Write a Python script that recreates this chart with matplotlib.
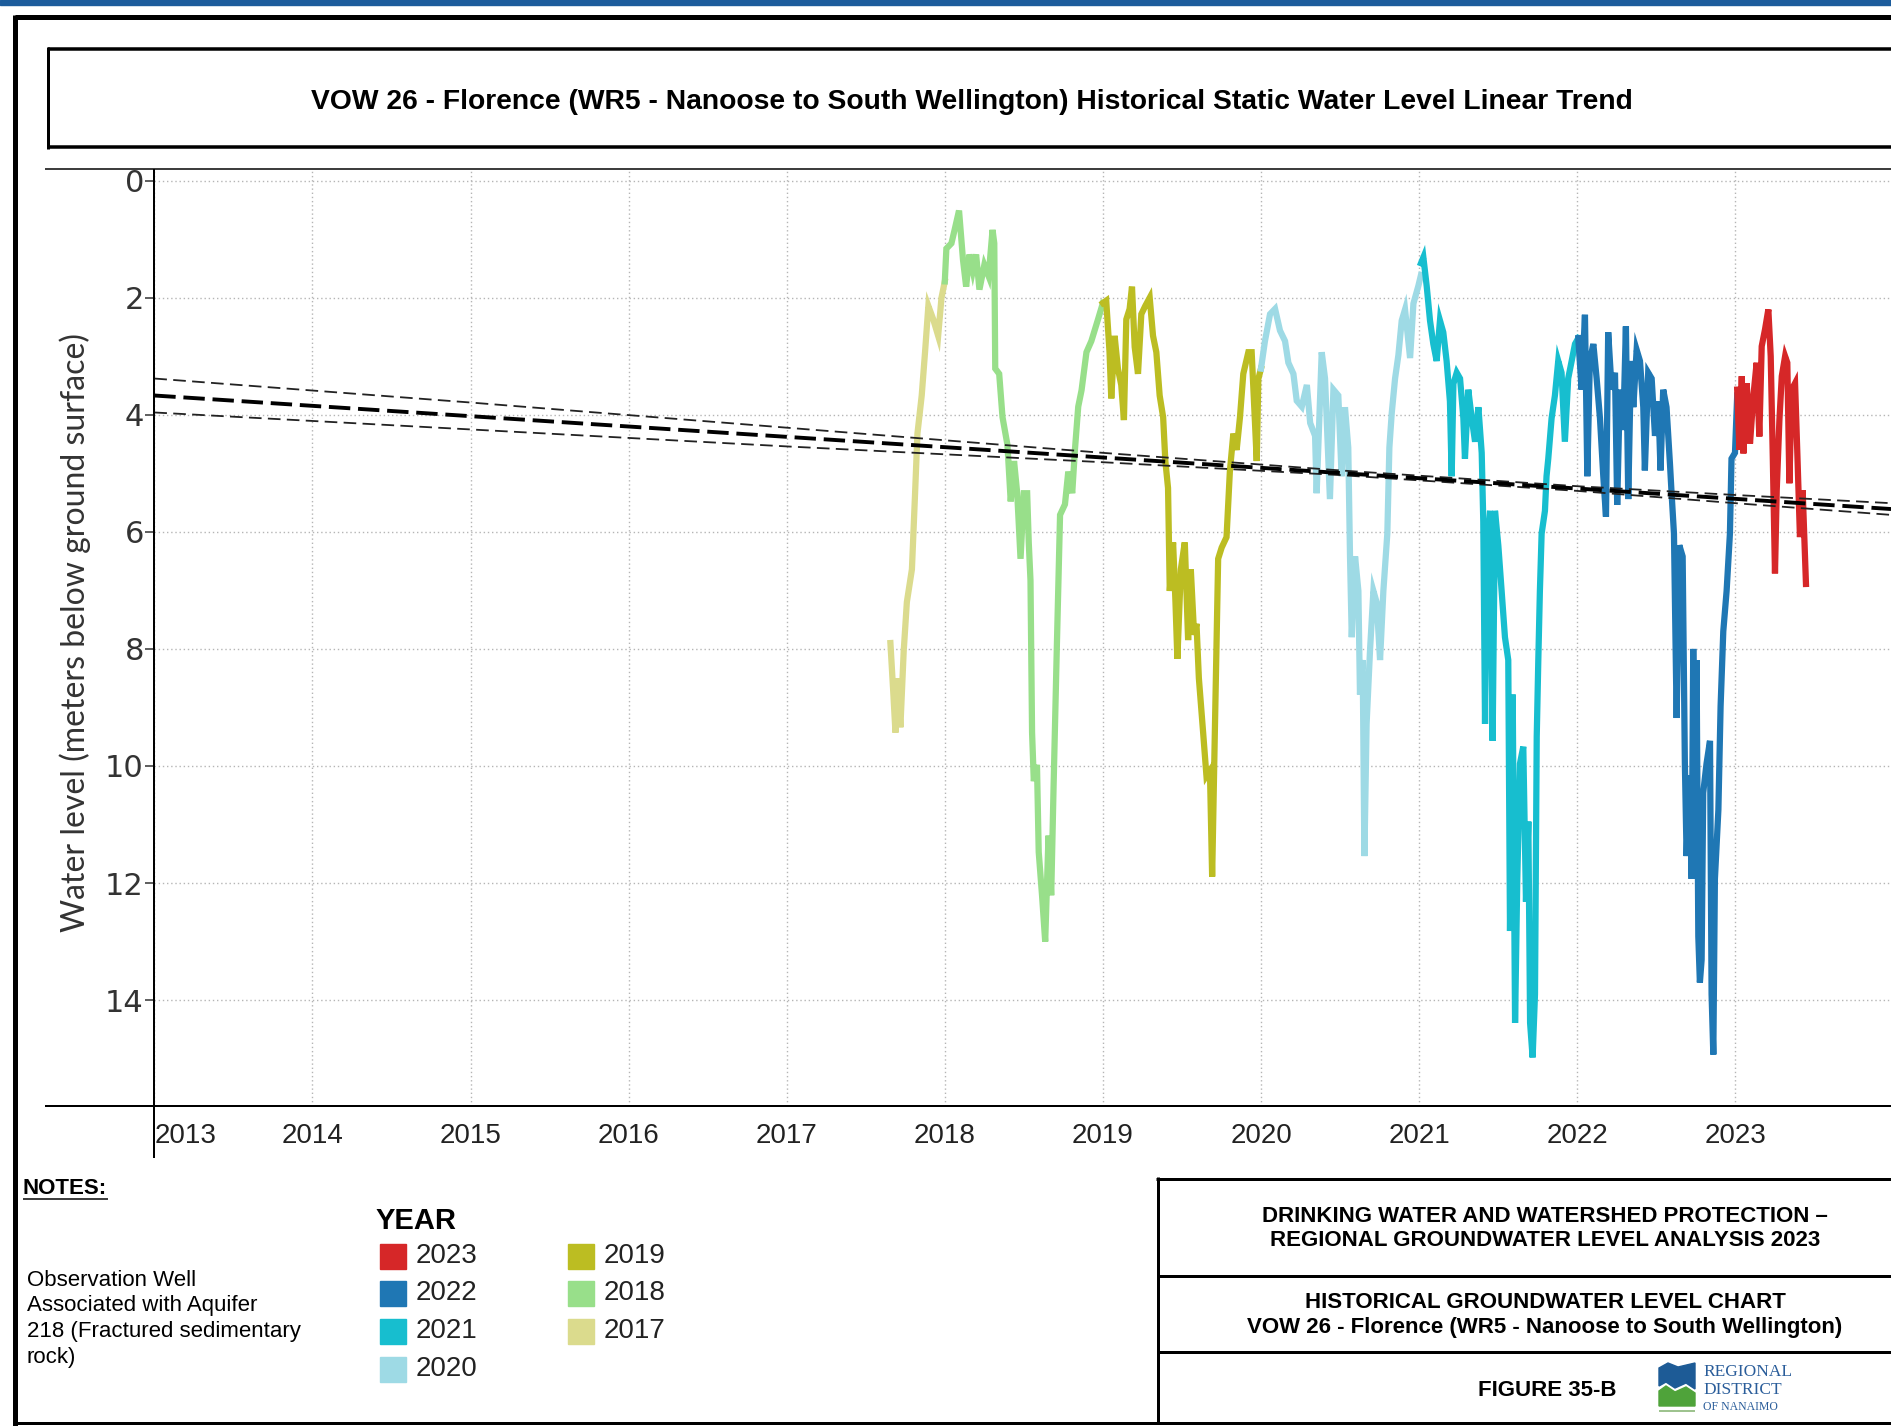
import matplotlib
matplotlib.use("Agg")
import matplotlib.pyplot as plt
from matplotlib.lines import Line2D
from matplotlib.patches import Rectangle, Polygon

W, H = 1891, 1426

# ...Water level series, decimal year vs metres below ground surface
years_2017 = [2017.656, 2017.673, 2017.688, 2017.702, 2017.719, 2017.740, 2017.760, 2017.792,
              2017.812, 2017.827, 2017.854, 2017.875, 2017.896, 2017.927, 2017.958, 2017.979, 2018.000]
level_2017 = [7.90, 8.69, 9.43, 8.50, 9.34, 8.04, 7.20, 6.64,
              5.34, 4.32, 3.67, 2.93, 2.14, 2.37, 2.65, 2.00, 1.72]

years_2018 = [2018.000, 2018.010, 2018.042, 2018.062, 2018.090, 2018.115, 2018.135, 2018.156,
              2018.177, 2018.198, 2018.219, 2018.250, 2018.277, 2018.302, 2018.313, 2018.319,
              2018.344, 2018.365, 2018.396, 2018.417, 2018.438, 2018.458, 2018.479, 2018.500,
              2018.521, 2018.531, 2018.542, 2018.552, 2018.563, 2018.583, 2018.594, 2018.615,
              2018.635, 2018.656, 2018.673, 2018.688, 2018.708, 2018.729, 2018.760, 2018.781,
              2018.806, 2018.823, 2018.844, 2018.865, 2018.896, 2018.927, 2018.969, 2019.000]
level_2018 = [1.72, 1.16, 1.07, 0.84, 0.51, 1.35, 1.81, 1.26,
              1.54, 1.26, 1.86, 1.44, 1.63, 0.84, 1.07, 3.21,
              3.30, 4.04, 4.51, 5.48, 4.79, 5.34, 6.46, 5.34,
              5.34, 6.18, 6.83, 9.43, 10.26, 9.98, 11.47, 12.21,
              13.00, 11.19, 12.21, 10.36, 8.04, 5.71, 5.53, 4.97,
              5.34, 4.60, 3.86, 3.58, 2.93, 2.74, 2.37, 2.09]

years_2019 = [2019.000, 2019.021, 2019.042, 2019.053, 2019.074, 2019.095, 2019.116, 2019.133,
              2019.148, 2019.169, 2019.184, 2019.201, 2019.222, 2019.243, 2019.268, 2019.296,
              2019.317, 2019.338, 2019.359, 2019.381, 2019.395, 2019.412, 2019.423, 2019.444,
              2019.459, 2019.471, 2019.493, 2019.518, 2019.539, 2019.556, 2019.577, 2019.592,
              2019.607, 2019.634, 2019.655, 2019.677, 2019.691, 2019.708, 2019.729, 2019.751,
              2019.782, 2019.803, 2019.825, 2019.846, 2019.867, 2019.888, 2019.920, 2019.941,
              2019.962, 2019.973, 2019.983, 2020.000]
level_2019 = [2.09, 2.05, 2.93, 3.72, 2.65, 3.21, 3.49, 4.09,
              2.37, 2.19, 1.81, 2.84, 3.30, 2.28, 2.14, 2.00,
              2.65, 2.93, 3.67, 4.04, 4.79, 5.25, 7.01, 6.18,
              7.20, 8.17, 6.64, 6.18, 7.85, 6.64, 7.76, 7.57,
              8.50, 9.43, 10.17, 10.08, 11.89, 9.43, 6.46, 6.27,
              6.09, 4.97, 4.32, 4.60, 4.04, 3.30, 2.93, 2.93,
              4.14, 4.79, 3.39, 3.21]

years_2020 = [2020.000, 2020.025, 2020.057, 2020.089, 2020.120, 2020.152, 2020.173, 2020.205,
              2020.226, 2020.258, 2020.290, 2020.311, 2020.342, 2020.352, 2020.384, 2020.405,
              2020.436, 2020.458, 2020.489, 2020.510, 2020.531, 2020.552, 2020.563, 2020.574,
              2020.595, 2020.616, 2020.626, 2020.643, 2020.654, 2020.668, 2020.690, 2020.711,
              2020.732, 2020.753, 2020.774, 2020.799, 2020.812, 2020.827, 2020.848, 2020.869,
              2020.890, 2020.911, 2020.943, 2020.964, 2020.995, 2021.012]
level_2020 = [3.21, 2.74, 2.28, 2.19, 2.56, 2.74, 3.11, 3.30,
              3.76, 3.86, 3.49, 4.14, 4.36, 5.34, 2.93, 3.38,
              5.44, 3.57, 3.67, 5.05, 3.87, 4.56, 6.42, 7.80,
              6.42, 7.01, 8.78, 8.19, 11.54, 9.28, 8.00, 7.01,
              7.21, 8.19, 7.01, 6.03, 4.56, 3.97, 3.38, 2.98,
              2.39, 2.20, 3.03, 2.10, 1.80, 1.61]

years_2021 = [2021.012, 2021.027, 2021.048, 2021.069, 2021.090, 2021.111, 2021.132, 2021.153,
              2021.174, 2021.195, 2021.206, 2021.217, 2021.238, 2021.259, 2021.280, 2021.290,
              2021.311, 2021.333, 2021.354, 2021.375, 2021.396, 2021.406, 2021.417, 2021.427,
              2021.449, 2021.465, 2021.480, 2021.501, 2021.522, 2021.543, 2021.564, 2021.575,
              2021.592, 2021.607, 2021.621, 2021.638, 2021.659, 2021.676, 2021.691, 2021.702,
              2021.718, 2021.733, 2021.744, 2021.754, 2021.764, 2021.775, 2021.796, 2021.806,
              2021.817, 2021.838, 2021.859, 2021.880, 2021.901, 2021.922, 2021.943, 2021.965,
              2021.986, 2022.007]
level_2021 = [1.41, 1.31, 1.80, 2.39, 2.79, 3.08, 2.39, 2.59,
              3.08, 3.77, 5.05, 3.47, 3.28, 3.38, 4.06, 4.75,
              3.57, 4.06, 4.46, 3.87, 4.65, 5.83, 9.28, 6.42,
              5.64, 9.57, 5.64, 6.23, 7.01, 7.80, 8.19, 12.82,
              8.78, 14.39, 11.93, 9.96, 9.67, 12.32, 10.95, 14.39,
              14.98, 13.90, 9.50, 8.19, 7.01, 6.03, 5.64, 5.05,
              4.75, 4.06, 3.67, 3.08, 3.28, 4.46, 3.38, 3.08,
              2.79, 2.69]

years_2022 = [2022.007, 2022.028, 2022.049, 2022.064, 2022.080, 2022.102, 2022.123, 2022.144,
              2022.165, 2022.182, 2022.196, 2022.218, 2022.239, 2022.253, 2022.270, 2022.291,
              2022.308, 2022.323, 2022.340, 2022.355, 2022.376, 2022.397, 2022.418, 2022.428,
              2022.449, 2022.471, 2022.492, 2022.513, 2022.527, 2022.544, 2022.565, 2022.587,
              2022.597, 2022.612, 2022.629, 2022.646, 2022.667, 2022.681, 2022.692, 2022.709,
              2022.724, 2022.734, 2022.745, 2022.755, 2022.766, 2022.776, 2022.787, 2022.797,
              2022.818, 2022.840, 2022.850, 2022.861, 2022.871, 2022.893, 2022.907, 2022.924,
              2022.945, 2022.966, 2022.976, 2022.998, 2023.012]
level_2022 = [2.69, 3.57, 2.29, 5.05, 3.08, 2.79, 3.38, 4.06,
              5.05, 5.74, 2.59, 3.57, 3.28, 5.54, 3.57, 4.26,
              2.49, 5.44, 3.08, 3.87, 2.89, 3.08, 3.87, 4.95,
              3.28, 3.38, 4.36, 3.77, 4.95, 3.57, 3.87, 4.85,
              5.34, 6.03, 9.18, 6.23, 6.42, 9.96, 11.54, 10.16,
              11.93, 8.00, 10.46, 8.19, 12.91, 13.70, 13.31, 10.46,
              9.96, 9.57, 13.90, 14.93, 11.93, 10.75, 8.98, 7.70,
              7.01, 6.03, 4.75, 4.65, 3.67]

years_2023 = [2023.012, 2023.026, 2023.041, 2023.051, 2023.072, 2023.093, 2023.114, 2023.135,
              2023.152, 2023.167, 2023.188, 2023.209, 2023.224, 2023.237, 2023.251, 2023.262,
              2023.279, 2023.294, 2023.315, 2023.329, 2023.342, 2023.357, 2023.378, 2023.393,
              2023.409, 2023.426, 2023.447]
level_2023 = [3.57, 4.60, 3.34, 4.66, 3.46, 4.49, 3.69, 3.11,
              4.37, 2.83, 2.54, 2.20, 3.00, 4.71, 6.71, 5.29,
              4.09, 3.34, 3.00, 3.11, 5.17, 3.57, 3.46, 4.71,
              6.09, 5.29, 6.89]

series_years = ["2017", "2018", "2019", "2020", "2021", "2022", "2023"]
series_x = [years_2017, years_2018, years_2019, years_2020, years_2021, years_2022, years_2023]
series_y = [level_2017, level_2018, level_2019, level_2020, level_2021, level_2022, level_2023]
series_colors = ["#dbdb8d", "#98df8a", "#bcbd22", "#9edae5", "#17becf", "#1f77b4", "#d62728"]

# ...Linear trend and its confidence band
trend_years = [2013.0, 2023.985]
trend_level = [3.67, 5.61]
band_years = [2013.0, 2015.0, 2017.0, 2019.0, 2020.5, 2022.0, 2023.0, 2023.985]
band_upper = [3.38, 3.79, 4.22, 4.65, 4.95, 5.22, 5.37, 5.51]
band_lower = [3.96, 4.25, 4.54, 4.81, 5.03, 5.30, 5.51, 5.71]

x_ticks = list(range(2013, 2024))
y_ticks = list(range(0, 15, 2))

notes_lines = ["Observation Well", "Associated with Aquifer",
               "218 (Fractured sedimentary", "rock)"]
legend_col1 = ["2023", "2022", "2021", "2020"]
legend_col2 = ["2019", "2018", "2017"]

plt.rcParams["font.family"] = ["Liberation Sans", "DejaVu Sans"]

fig = plt.figure(figsize=(W / 100, H / 100), dpi=100)
fig.patch.set_facecolor("white")


def fx(x):
    return x / W


def fy(y):
    return 1 - y / H


def px_line(x0, y0, x1, y1, width_px, color="black"):
    fig.add_artist(Line2D([fx(x0), fx(x1)], [fy(y0), fy(y1)], lw=width_px * 0.72,
                          color=color, solid_capstyle="butt"))


# ...Plot area
ax_left, ax_top, ax_bottom = 154.3, 169, 1106
ax = fig.add_axes([fx(ax_left), fy(ax_bottom), 1 - fx(ax_left), (ax_bottom - ax_top) / H])
px_per_year = 158.1
ax.set_xlim(2013, 2013 + (W - ax_left) / px_per_year)
ax.set_ylim(15.81, -0.2)
for sp in ax.spines.values():
    sp.set_visible(False)

ax.set_xticks(x_ticks)
ax.set_xticklabels([str(t) for t in x_ticks])
ax.set_yticks(y_ticks)
ax.set_yticklabels([str(t) for t in y_ticks], family="DejaVu Sans")
ax.tick_params(axis="x", length=0, labelsize=20, pad=12, labelcolor="#222222")
ax.tick_params(axis="y", length=6.5, width=1.1, labelsize=22, pad=1, labelcolor="#333333",
               color="#333333")
ax.get_xticklabels()[0].set_ha("left")
ax.grid(True, color="#b5b5b5", lw=1.0, linestyle=(0, (1, 2)))

for yrs, lvl, c in zip(series_x, series_y, series_colors):
    ax.plot(yrs, lvl, color=c, lw=4.5, solid_joinstyle="miter")

ax.plot(band_years, band_upper, color="#222222", lw=1.3, dashes=(7, 3.5))
ax.plot(band_years, band_lower, color="#222222", lw=1.3, dashes=(7, 3.5))
ax.plot(trend_years, trend_level, color="black", lw=2.8, dashes=(5.5, 2))

# ...Axis lines drawn to match the report layout
px_line(45, ax_top, W, ax_top, 1.5)
px_line(45, ax_bottom, W, ax_bottom, 2)
px_line(ax_left, ax_top, ax_left, 1158, 2)

fig.text(fx(75), fy(633), "Water level (meters below ground surface)", rotation=90,
         ha="center", va="center", family=["Lato", "DejaVu Sans"], fontsize=23,
         color="#333333")

# ...Frames
fig.add_artist(Rectangle((0, fy(5)), 1, 5 / H, color="#1c5c9c", transform=fig.transFigure))
px_line(15, 17, W, 17, 5)
px_line(15, 15, 15, 1426, 5)
px_line(15, 1423, W, 1423, 3)

px_line(48, 49, W, 49, 3.5)
px_line(48, 147, W, 147, 3.5)
px_line(48, 47, 48, 149, 3)
fig.text(fx(972), fy(102),
         "VOW 26 - Florence (WR5 - Nanoose to South Wellington) Historical Static Water Level Linear Trend",
         ha="center", va="center", fontsize=20.3, fontweight="bold")

# ...Notes and legend
fig.text(fx(23), fy(1188), "NOTES:", ha="left", va="center", fontsize=16, fontweight="bold")
px_line(23, 1199, 108, 1199, 1.5)
for i, line in enumerate(notes_lines):
    fig.text(fx(27), fy(1280 + i * 26), line, ha="left", va="center", fontsize=16)

fig.text(fx(376), fy(1221), "YEAR", ha="left", va="center", fontsize=21, fontweight="bold")
color_of = dict(zip(series_years, series_colors))
row_y = [1256, 1293, 1331, 1369]
for col_x, labels in ((380, legend_col1), (568, legend_col2)):
    for i, lab in enumerate(labels):
        fig.add_artist(Rectangle((fx(col_x), fy(row_y[i] + 12.5)), 26 / W, 25 / H,
                                 color=color_of[lab], transform=fig.transFigure))
        fig.text(fx(col_x + 36), fy(row_y[i]), lab, ha="left", va="center", fontsize=20,
                 color="#222222")

# ...Title block, bottom right
px_line(1158, 1177, 1158, 1423, 3)
px_line(1156, 1179, W, 1179, 3)
px_line(1158, 1276, W, 1276, 3)
px_line(1158, 1352, W, 1352, 3)
block_lines = [(1217, "DRINKING WATER AND WATERSHED PROTECTION \u2013"),
               (1241, "REGIONAL GROUNDWATER LEVEL ANALYSIS 2023"),
               (1302, "HISTORICAL GROUNDWATER LEVEL CHART"),
               (1327, "VOW 26 - Florence (WR5 - Nanoose to South Wellington)")]
for yy, txt in block_lines:
    fig.text(fx(1545), fy(yy), txt, ha="center", va="center", fontsize=16, fontweight="bold")
fig.text(fx(1547), fy(1390), "FIGURE 35-B", ha="center", va="center", fontsize=16,
         fontweight="bold")

# ...Logo
blue_pts = [(1659, 1368), (1668, 1363), (1678, 1367), (1695, 1363), (1695, 1389),
            (1686, 1383), (1675, 1388), (1666, 1382), (1659, 1386)]
green_pts = [(1659, 1391), (1666, 1386), (1675, 1392), (1686, 1387), (1695, 1393),
             (1695, 1406), (1659, 1406)]
fig.add_artist(Polygon([(fx(a), fy(b)) for a, b in blue_pts], closed=True, color="#1d5b96",
                       transform=fig.transFigure))
fig.add_artist(Polygon([(fx(a), fy(b)) for a, b in green_pts], closed=True, color="#4fa33a",
                       transform=fig.transFigure))
px_line(1659, 1411, 1695, 1411, 1.5, color="#7fb06a")
for yy, txt, fs in ((1372, "REGIONAL", 12.5), (1390, "DISTRICT", 12.5), (1407, "OF NANAIMO", 8.5)):
    fig.text(fx(1703), fy(yy), txt, ha="left", va="center", fontsize=fs,
             family="Liberation Serif", color="#2a5d9a")

fig.savefig("out.png", dpi=100)
